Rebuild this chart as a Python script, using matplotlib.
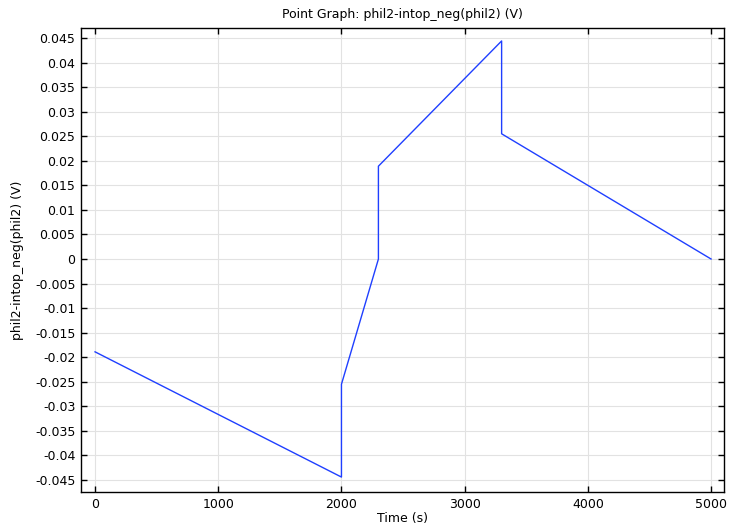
import matplotlib
matplotlib.use("Agg")
import matplotlib.pyplot as plt

# Vertices of the piecewise-linear potential profile
time_s = [0, 2000, 2000, 2300, 2300, 3300, 3300, 5000]
phil2_v = [-0.0189, -0.0444, -0.0255, 0.0, 0.0189, 0.0444, 0.0255, 0.0]

x_ticks = [0, 1000, 2000, 3000, 4000, 5000]
y_ticks = [-0.045, -0.04, -0.035, -0.03, -0.025, -0.02, -0.015, -0.01, -0.005,
           0, 0.005, 0.01, 0.015, 0.02, 0.025, 0.03, 0.035, 0.04, 0.045]
y_labels = ["-0.045", "-0.04", "-0.035", "-0.03", "-0.025", "-0.02", "-0.015", "-0.01",
            "-0.005", "0", "0.005", "0.01", "0.015", "0.02", "0.025", "0.03", "0.035",
            "0.04", "0.045"]

plt.rcParams["font.family"] = ["DejaVu Sans"]
plt.rcParams["font.size"] = 9

fig = plt.figure(figsize=(7.29, 5.28), dpi=100)
ax = fig.add_axes([81 / 729, 1 - 492 / 528, (724 - 81) / 729, (492 - 28) / 528])

ax.plot(time_s, phil2_v, color="#1f3fff", linewidth=1.0)

ax.set_xlim(-114, 5105)
ax.set_ylim(-0.04744, 0.04704)
ax.set_xticks(x_ticks)
ax.set_yticks(y_ticks)
ax.set_yticklabels(y_labels)

ax.grid(True, color="#e2e2e2", linewidth=0.8)
ax.set_axisbelow(True)
ax.tick_params(direction="in", top=True, right=True, length=4, width=1.0,
               labelsize=9, colors="black", pad=4)
for side in ax.spines.values():
    side.set_linewidth(1.0)

ax.set_title("Point Graph: phil2-intop_neg(phil2) (V)", fontsize=9, pad=7)
ax.set_xlabel("Time (s)", fontsize=9, labelpad=1)
ax.set_ylabel("phil2-intop_neg(phil2) (V)", fontsize=9, labelpad=8)

fig.savefig("out.png", dpi=100)
